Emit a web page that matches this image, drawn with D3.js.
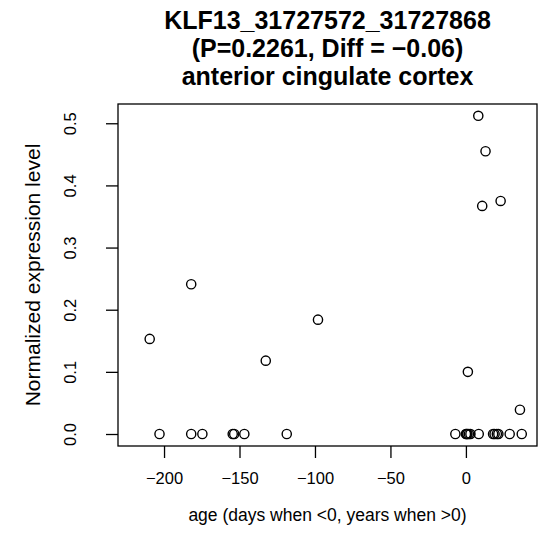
<!DOCTYPE html>
<html>
<head>
<meta charset="utf-8">
<script src="https://cdn.jsdelivr.net/npm/d3@7"></script>
<style>
  body { margin: 0; background: #fff; }
  svg text { font-family: "Liberation Sans", Arial, sans-serif; fill: #000; }
</style>
</head>
<body>
<div id="chart"></div>
<script>
// data
const ages = [-209.5, -182, -132.6, -98, 1.3, 8.2, 13, 10.8, 23, 35.8,
              -203, -182, -174.6, -154.5, -153.5, -146.8, -118.7,
              -7, 0, 0.5, 1, 2, 3, 8.5, 18, 19, 20.5, 21.5, 29, 37];
const levels = [0.153, 0.241, 0.118, 0.184, 0.100, 0.512, 0.455, 0.367, 0.375, 0.039,
                0, 0, 0, 0, 0, 0, 0,
                0, 0, 0, 0, 0, 0, 0, 0, 0, 0, 0, 0, 0];
const xTicks = [-200, -150, -100, -50, 0];
const yTicks = [0.0, 0.1, 0.2, 0.3, 0.4, 0.5];
const titleLines = ["KLF13_31727572_31727868", "(P=0.2261, Diff = \u22120.06)", "anterior cingulate cortex"];

const W = 549, H = 555;
const box = {left: 118, right: 537, top: 104, bottom: 446};

const svg = d3.select("#chart").append("svg")
    .attr("width", W)
    .attr("height", H);

const x = d3.scaleLinear().domain([-230.5, 47.1]).range([box.left, box.right]);
const y = d3.scaleLinear().domain([-0.0193, 0.531]).range([box.bottom, box.top]);

// plot box
svg.append("rect")
    .attr("x", box.left).attr("y", box.top)
    .attr("width", box.right - box.left).attr("height", box.bottom - box.top)
    .attr("fill", "none").attr("stroke", "#000").attr("stroke-width", 1.3);

// x axis
const xAxis = svg.append("g")
    .attr("transform", "translate(0," + box.bottom + ")")
    .call(d3.axisBottom(x).tickValues(xTicks).tickSize(12).tickPadding(14)
        .tickFormat(d => d < 0 ? "\u2212" + Math.abs(d) : d));
xAxis.select(".domain").remove();
xAxis.selectAll("line").attr("stroke", "#000").attr("stroke-width", 1.3);
xAxis.selectAll("text").attr("font-size", 16.5).attr("font-family", "Liberation Sans, Arial, sans-serif");

// y axis, labels rotated like base R
const yAxis = svg.append("g")
    .attr("transform", "translate(" + box.left + ",0)")
    .call(d3.axisLeft(y).tickValues(yTicks).tickSize(12).tickFormat(d3.format(".1f")));
yAxis.select(".domain").remove();
yAxis.selectAll("line").attr("stroke", "#000").attr("stroke-width", 1.3);
yAxis.selectAll("text")
    .attr("font-size", 16.5).attr("font-family", "Liberation Sans, Arial, sans-serif")
    .attr("x", null).attr("dy", null)
    .attr("text-anchor", "middle")
    .attr("transform", "translate(-42,0) rotate(-90)");

// points
svg.append("g").selectAll("circle")
    .data(ages.map((a, i) => ({age: a, level: levels[i]})))
    .enter().append("circle")
    .attr("cx", d => x(d.age))
    .attr("cy", d => y(d.level))
    .attr("r", 4.6)
    .attr("fill", "none")
    .attr("stroke", "#000")
    .attr("stroke-width", 1.4);

// titles
const cx = (box.left + box.right) / 2;
svg.append("g").selectAll("text")
    .data(titleLines)
    .enter().append("text")
    .attr("x", cx)
    .attr("y", (d, i) => 29 + i * 28)
    .attr("text-anchor", "middle")
    .attr("font-size", 25)
    .attr("font-weight", "bold")
    .text(d => d);

svg.append("text")
    .attr("x", cx).attr("y", 521)
    .attr("text-anchor", "middle")
    .attr("font-size", 17.5)
    .text("age (days when <0, years when >0)");

svg.append("text")
    .attr("transform", "translate(40," + (box.top + box.bottom) / 2 + ") rotate(-90)")
    .attr("text-anchor", "middle")
    .attr("font-size", 21)
    .text("Normalized expression level");
</script>
</body>
</html>
